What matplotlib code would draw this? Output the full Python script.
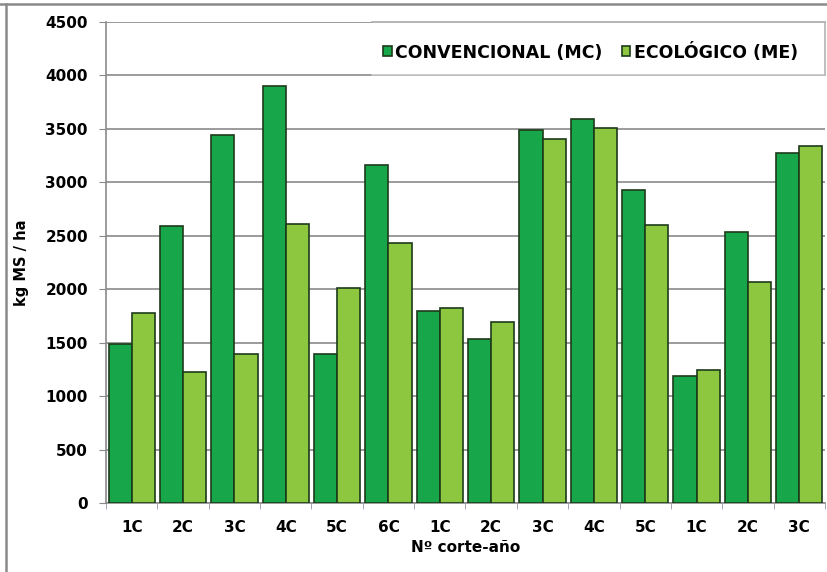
import matplotlib
matplotlib.use("Agg")
import matplotlib.pyplot as plt
import numpy as np

plt.rcParams['font.family'] = ['DejaVu Sans']
plt.rcParams['font.weight'] = 'bold'

categories = ["1C", "2C", "3C", "4C", "5C", "6C", "1C", "2C", "3C", "4C", "5C", "1C", "2C", "3C"]
mc_values = [1490, 2590, 3440, 3900, 1390, 3160, 1800, 1530, 3490, 3590, 2930, 1190, 2540, 3270]
me_values = [1780, 1230, 1395, 2610, 2010, 2430, 1820, 1690, 3410, 3510, 2600, 1240, 2070, 3340]
series_names = ["CONVENCIONAL (MC)", "ECOLÓGICO (ME)"]
y_ticks = [0, 500, 1000, 1500, 2000, 2500, 3000, 3500, 4000, 4500]

W, H = 828, 572
fig = plt.figure(figsize=(W / 100, H / 100), dpi=100)
fig.patch.set_facecolor('white')
# outer frame: top and left lines only
fig.add_artist(plt.Line2D([0, 1], [(H - 4) / H, (H - 4) / H], transform=fig.transFigure,
                          color='#8a8a8a', linewidth=1.8))
fig.add_artist(plt.Line2D([6 / W, 6 / W], [0, (H - 4) / H], transform=fig.transFigure,
                          color='#8a8a8a', linewidth=1.8))

ax = fig.add_axes([106 / W, (H - 503) / H, (825 - 106) / W, (503 - 22) / H])
x = np.arange(len(categories))
bw = 0.45
c_mc = '#18a64a'
c_me = '#8dc63f'
ec = '#1c3b1a'
ax.bar(x - bw / 2, mc_values, bw, color=c_mc, edgecolor=ec, linewidth=1.2, label=series_names[0], zorder=3)
ax.bar(x + bw / 2, me_values, bw, color=c_me, edgecolor=ec, linewidth=1.2, label=series_names[1], zorder=3)

ax.set_xlim(-0.5, len(categories) - 0.5)
ax.set_ylim(0, 4500)
ax.set_yticks(y_ticks)
ax.set_yticklabels([str(v) for v in y_ticks], fontsize=11, fontweight='bold')
ax.set_xticks(x)
ax.set_xticklabels(categories, fontsize=11, fontweight='bold')
ax.tick_params(axis='x', length=0, pad=12)
ax.set_xticks(np.arange(len(categories) + 1) - 0.5, minor=True)
ax.tick_params(axis='x', which='minor', length=4, color='#9a9ab0')
ax.tick_params(axis='y', length=5, color='#8a8a8a', pad=8)

ax.grid(axis='y', color='#8a8a8a', linewidth=1.2, zorder=0)
for s in ['top', 'right']:
    ax.spines[s].set_visible(False)
for s in ['left', 'bottom']:
    ax.spines[s].set_color('#8a8a8a')
    ax.spines[s].set_linewidth(1.2)

ax.set_ylabel("kg MS / ha", fontsize=10.5, fontweight='bold', labelpad=12)
ax.set_xlabel("Nº corte-año", fontsize=11, fontweight='bold', labelpad=4)

# legend panel (white, between the two top gridlines, right border only)
box_left = (372 - 106) / (825 - 106)
ax.add_patch(plt.Rectangle((box_left, 4000 / 4500), 1 - box_left, 500 / 4500,
                           transform=ax.transAxes, facecolor='white', edgecolor='none',
                           zorder=2.5, clip_on=False))
ax.plot([box_left, 1], [4000 / 4500, 4000 / 4500], transform=ax.transAxes,
        color='#c4c4c4', linewidth=1.2, zorder=2.6, clip_on=False)
ax.plot([box_left, 1], [1, 1], transform=ax.transAxes,
        color='#a8a8a8', linewidth=1.2, zorder=2.6, clip_on=False)
ax.plot([1, 1], [4000 / 4500, 1], transform=ax.transAxes,
        color='#b4b4b4', linewidth=1.2, zorder=2.6, clip_on=False)
leg = ax.legend(loc='center right', ncol=2, fontsize=12.5, frameon=False,
                handlelength=0.5, handleheight=0.5, handletextpad=0.2, columnspacing=1.1,
                borderpad=0, bbox_to_anchor=((798 - 106) / (825 - 106), 1 - (52 - 22) / (503 - 22)),
                borderaxespad=0)
leg.set_zorder(4)
for t in leg.get_texts():
    t.set_fontweight('bold')

fig.savefig("out.png", dpi=100)
